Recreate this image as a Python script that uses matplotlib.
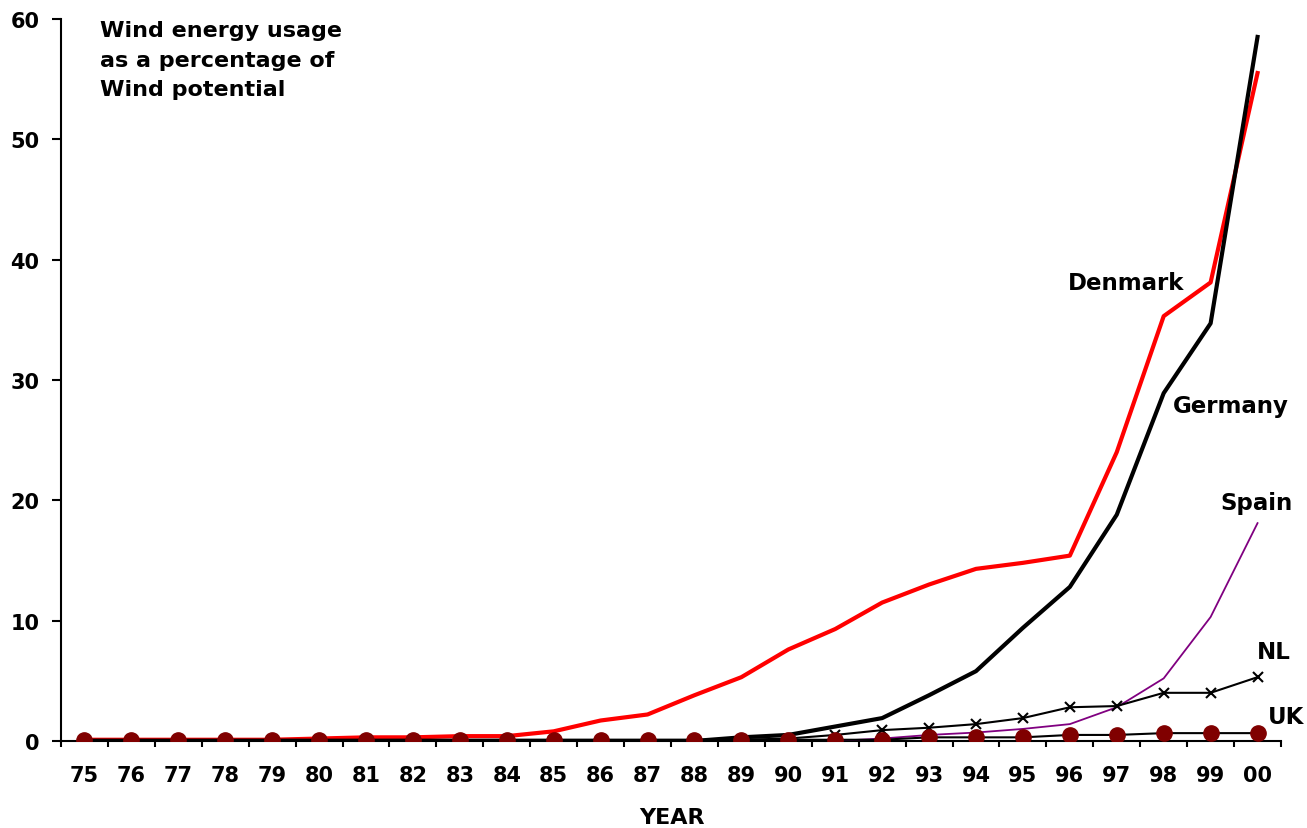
import numpy as np
import matplotlib.pyplot as plt

plt.rcParams['font.family'] = ['DejaVu Sans']
plt.rcParams['font.weight'] = 'bold'

years = ['75', '76', '77', '78', '79', '80', '81', '82', '83', '84', '85', '86', '87',
         '88', '89', '90', '91', '92', '93', '94', '95', '96', '97', '98', '99', '00']

denmark = [0.1, 0.1, 0.1, 0.1, 0.1, 0.2, 0.3, 0.3, 0.4, 0.4, 0.8, 1.7, 2.2,
           3.8, 5.3, 7.6, 9.3, 11.5, 13.0, 14.3, 14.8, 15.4, 24.0, 35.3, 38.1, 55.5]
germany = [0, 0, 0, 0, 0, 0, 0, 0, 0, 0, 0, 0, 0,
           0, 0.3, 0.5, 1.2, 1.9, 3.8, 5.8, 9.4, 12.8, 18.8, 28.9, 34.7, 58.5]
spain = [np.nan] * 16 + [0.0, 0.2, 0.5, 0.7, 1.0, 1.4, 2.8, 5.2, 10.3, 18.1]
nl = [0, 0, 0, 0, 0, 0, 0, 0, 0, 0, 0, 0, 0,
      0, 0.1, 0.2, 0.5, 0.9, 1.1, 1.4, 1.9, 2.8, 2.9, 4.0, 4.0, 5.3]
uk = [0.1, 0.1, 0.1, 0.1, 0.1, 0.1, 0.1, 0.1, 0.1, 0.1, 0.1, 0.1, 0.1,
      0.1, 0.1, 0.1, 0.1, 0.1, 0.3, 0.3, 0.3, 0.5, 0.5, 0.65, 0.65, 0.65]

x = np.arange(len(years))

fig = plt.figure(figsize=(13.07, 8.29), dpi=100)
ax = fig.add_axes([0.0467, 0.105, 0.9334, 0.871])

ax.plot(x, uk, color='black', lw=1.5, marker='o', markersize=11,
        markerfacecolor='#800000', markeredgecolor='#800000', zorder=6)
ax.plot(x, nl, color='black', lw=1.5, marker='x', markersize=7.5,
        markeredgewidth=1.5, zorder=4)
ax.plot(x, spain, color='#800080', lw=1.3, zorder=3)
ax.plot(x, germany, color='black', lw=3, zorder=5)
ax.plot(x, denmark, color='#ff0000', lw=3, zorder=2)

# series names next to the line ends
lab = dict(fontsize=16.5, fontweight='bold', va='center', ha='left')
ax.text(20.95, 38.1, 'Denmark', **lab)
ax.text(23.19, 27.85, 'Germany', **lab)
ax.text(24.21, 19.85, 'Spain', **lab)
ax.text(24.98, 7.4, 'NL', **lab)
ax.text(25.23, 2.0, 'UK', **lab)

ax.text(0.33, 59.9, 'Wind energy usage\nas a percentage of\nWind potential',
        fontsize=16, fontweight='bold', va='top', ha='left', linespacing=1.6)

ax.set_xlim(-0.5, len(years) - 0.5)
ax.set_ylim(0, 60)
ax.set_xticks(x)
ax.set_xticklabels(years)
ax.set_xticks(np.arange(-0.5, len(years), 1), minor=True)
ax.set_yticks(np.arange(0, 61, 10))

ax.tick_params(axis='x', which='major', length=0, pad=17.5, labelsize=15)
ax.tick_params(axis='x', which='minor', length=4.5, width=1.5, direction='out')
ax.tick_params(axis='y', length=6.5, width=1.5, direction='out', pad=9, labelsize=15)

for side in ['top', 'right']:
    ax.spines[side].set_visible(False)
for side in ['left', 'bottom']:
    ax.spines[side].set_linewidth(1.5)

fig.text(0.5138, 0.0133, 'YEAR', ha='center', va='center', fontsize=16, fontweight='bold')

fig.savefig('out.png', dpi=100)
